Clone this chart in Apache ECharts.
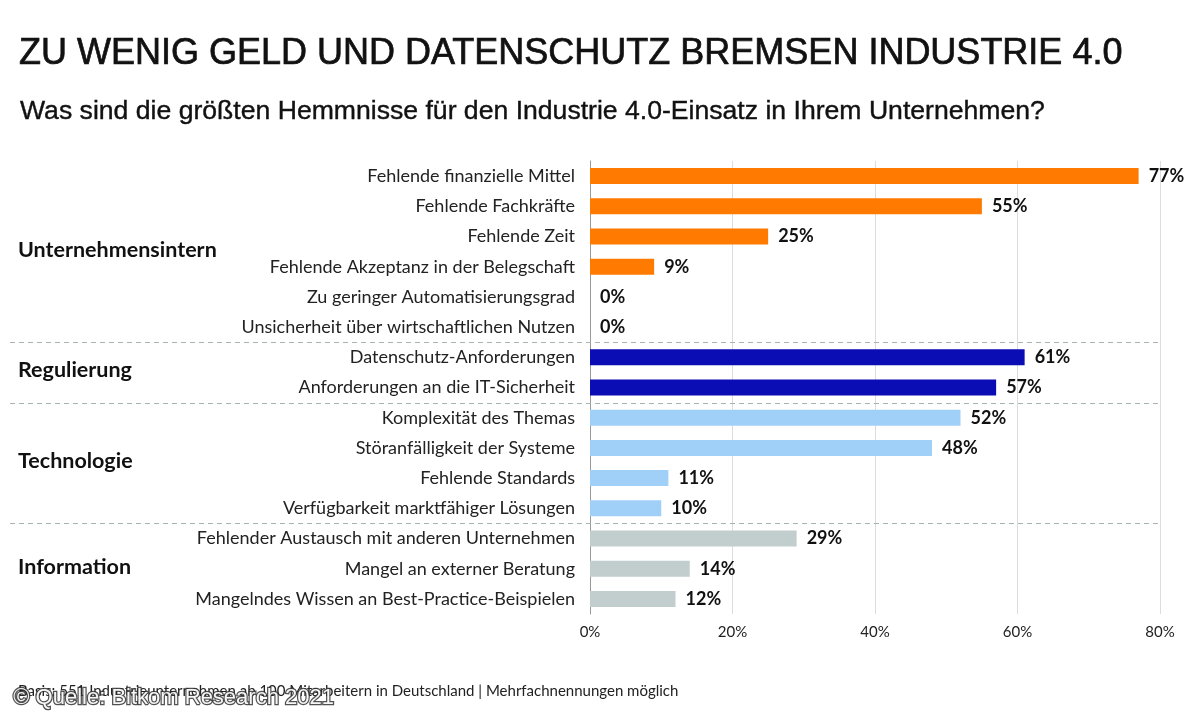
<!DOCTYPE html>
<html>
<head>
<meta charset="utf-8">
<title>Industrie 4.0 Hemmnisse</title>
<style>
  html, body { margin: 0; padding: 0; background: #fff; }
  #chart { width: 1200px; height: 720px; }
</style>
</head>
<body>
<div id="chart"></div>
<script src="https://cdn.jsdelivr.net/npm/echarts@6/dist/echarts.min.js"></script>
<script>
// answers, top to bottom
var categories = [
  'Fehlende finanzielle Mittel',
  'Fehlende Fachkräfte',
  'Fehlende Zeit',
  'Fehlende Akzeptanz in der Belegschaft',
  'Zu geringer Automatisierungsgrad',
  'Unsicherheit über wirtschaftlichen Nutzen',
  'Datenschutz-Anforderungen',
  'Anforderungen an die IT-Sicherheit',
  'Komplexität des Themas',
  'Störanfälligkeit der Systeme',
  'Fehlende Standards',
  'Verfügbarkeit marktfähiger Lösungen',
  'Fehlender Austausch mit anderen Unternehmen',
  'Mangel an externer Beratung',
  'Mangelndes Wissen an Best-Practice-Beispielen'
];
var values = [77, 55, 25, 9, 0, 0, 61, 57, 52, 48, 11, 10, 29, 14, 12];
// group index of each answer
var groupOf = [0, 0, 0, 0, 0, 0, 1, 1, 2, 2, 2, 2, 3, 3, 3];
var groupNames = ['Unternehmensintern', 'Regulierung', 'Technologie', 'Information'];
var groupColors = ['#ff7a00', '#0a0db4', '#a0d0f8', '#c2cdce'];
var xTicks = [0, 20, 40, 60, 80];

var chart = echarts.init(document.getElementById('chart'));

var barData = values.map(function (v, i) {
  return { value: v, itemStyle: { color: groupColors[groupOf[i]] } };
});

chart.setOption({
  backgroundColor: '#fff',
  animation: false,
  title: [
    {
      text: 'ZU WENIG GELD UND DATENSCHUTZ BREMSEN INDUSTRIE 4.0',
      left: 14, top: 31,
      textStyle: {
        fontFamily: 'Liberation Sans', fontSize: 36, fontWeight: 'normal', color: '#111',
        textBorderColor: '#111', textBorderWidth: 0.7
      }
    },
    {
      text: 'Was sind die größten Hemmnisse für den Industrie 4.0-Einsatz in Ihrem Unternehmen?',
      left: 15, top: 93,
      textStyle: {
        fontFamily: 'Liberation Sans', fontSize: 26.6, fontWeight: 'normal', color: '#111',
        textBorderColor: '#111', textBorderWidth: 0.4
      }
    }
  ],
  grid: { left: 590, right: 40, top: 161, bottom: 106 },
  xAxis: {
    type: 'value',
    min: 0, max: 80, interval: 20,
    axisLine: { show: false },
    axisTick: { show: false },
    splitLine: { lineStyle: { color: '#dcdcdc', width: 1 } },
    axisLabel: {
      margin: 11,
      fontFamily: 'Lato', fontSize: 15, color: '#222',
      formatter: function (v) { return xTicks.indexOf(v) >= 0 ? v + '%' : ''; }
    }
  },
  yAxis: {
    type: 'category',
    inverse: true,
    data: categories,
    axisLine: { show: true, lineStyle: { color: '#999' } },
    axisTick: { show: false },
    axisLabel: { margin: 15, fontFamily: 'Lato', fontSize: 18, color: '#222' }
  },
  series: [{
    type: 'bar',
    barWidth: 16,
    data: barData,
    label: {
      show: true,
      position: 'right',
      distance: 10,
      formatter: '{c}%',
      fontFamily: 'Lato', fontWeight: 'bold', fontSize: 18, color: '#111'
    }
  }]
});

// separators between groups and group titles, placed via the axis scale
var graphics = [];
var half = (chart.convertToPixel({ yAxisIndex: 0 }, categories[1]) -
            chart.convertToPixel({ yAxisIndex: 0 }, categories[0])) / 2;
var xEnd = chart.convertToPixel({ xAxisIndex: 0 }, 80);
groupNames.forEach(function (name, g) {
  var first = groupOf.indexOf(g);
  var last = groupOf.lastIndexOf(g);
  var yFirst = chart.convertToPixel({ yAxisIndex: 0 }, categories[first]);
  var yLast = chart.convertToPixel({ yAxisIndex: 0 }, categories[last]);
  graphics.push({
    type: 'text',
    left: 18, top: (yFirst + yLast) / 2 - 13,
    style: { text: name, font: 'bold 21.5px Lato', fill: '#111' }
  });
  if (g > 0) {
    var y = Math.round(yFirst - half) + 0.5;
    graphics.push({
      type: 'line',
      shape: { x1: 10, y1: y, x2: xEnd, y2: y },
      style: { stroke: '#a8b4b4', lineWidth: 1, lineDash: [5, 4] },
      z: 10
    });
  }
});
graphics.push({
  type: 'text', left: 18, top: 684,
  style: {
    text: 'Basis: 551 Industrieunternehmen ab 100 Mitarbeitern in Deutschland | Mehrfachnennungen möglich',
    font: '15px Lato', fill: '#222'
  }
});
graphics.push({
  type: 'text', left: 12, top: 686, z: 20,
  style: {
    text: '© Quelle: Bitkom Research 2021',
    font: '22px "Liberation Sans"', fill: '#f6f6f6',
    stroke: 'rgba(50,50,50,0.85)', lineWidth: 2.5
  }
});
chart.setOption({ graphic: graphics });
</script>
</body>
</html>
